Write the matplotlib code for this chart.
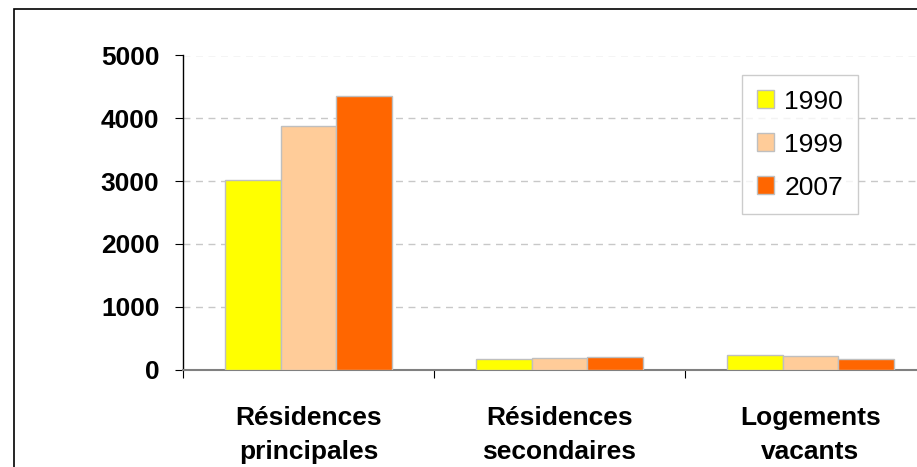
import numpy as np
import matplotlib.pyplot as plt
from matplotlib.patches import Rectangle

categories = ['Résidences\nprincipales', 'Résidences\nsecondaires', 'Logements\nvacants']
years = ['1990', '1999', '2007']
v1990 = [3025, 175, 230]
v1999 = [3875, 180, 220]
v2007 = [4355, 200, 175]
colors = ['#FFFF00', '#FFCC99', '#FF6600']

W, H = 917, 467
fig = plt.figure(figsize=(W / 100, H / 100), dpi=100)
plt.rcParams['font.family'] = ['Liberation Sans', 'DejaVu Sans']

# chart border, cut off on the right and bottom like the original
fig.patches.append(Rectangle((14 / W, -0.1), 1.2, (H - 9) / H + 0.1,
                             transform=fig.transFigure, fill=False,
                             edgecolor='black', linewidth=1.2))

ax = fig.add_axes([183 / W, (H - 369.5) / H, (936 - 183) / W, (369.5 - 55.5) / H])

x = np.arange(len(categories))
bw = 0.222
for i, (vals, lab) in enumerate(zip([v1990, v1999, v2007], years)):
    ax.bar(x + (i - 1) * bw, vals, bw, color=colors[i], edgecolor='#BFBFBF',
           linewidth=1, label=lab, zorder=3)

ax.set_xlim(-0.5, 2.5)
ax.set_ylim(0, 5000)
ax.set_yticks([0, 1000, 2000, 3000, 4000, 5000])
ax.yaxis.grid(True, linestyle=(0, (5, 4)), color='#C8C8C8', linewidth=1, zorder=0)

ax.set_xticks([-0.5, 0.5, 1.5, 2.5])
ax.set_xticklabels([])
ax.set_xticks(x, minor=True)
ax.set_xticklabels(categories, minor=True, fontsize=19, fontweight='bold', linespacing=1.55)
ax.tick_params(axis='x', which='major', length=6, direction='out', color='black')
ax.tick_params(axis='x', which='minor', length=0, pad=26)
ax.tick_params(axis='y', length=6, direction='out', pad=11, labelsize=19)
for t in ax.get_yticklabels():
    t.set_fontweight('bold')

for s in ['top', 'right']:
    ax.spines[s].set_visible(False)
ax.spines['bottom'].set_color('#808080')
ax.spines['bottom'].set_linewidth(1.5)
ax.spines['left'].set_color('black')
ax.spines['left'].set_linewidth(1)

leg = ax.legend(loc='upper left', bbox_to_anchor=((742 - 183) / (936 - 183), 1 - (75 - 55.5) / 314),
                fontsize=19, frameon=True, fancybox=False, edgecolor='#C0C0C0',
                handlelength=0.65, handleheight=0.65, handletextpad=0.4,
                labelspacing=0.72, borderpad=0.55, borderaxespad=0)
leg.get_frame().set_linewidth(1)

fig.savefig('out.png', dpi=100)
